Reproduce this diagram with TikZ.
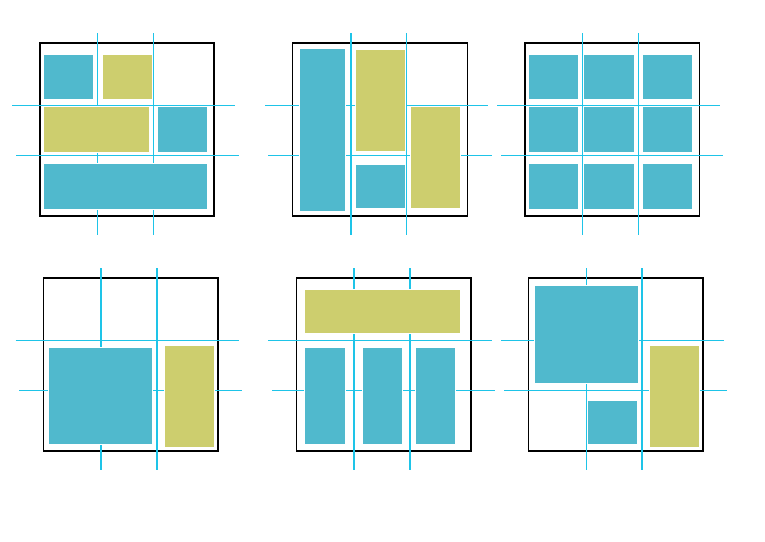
\documentclass[tikz,border=0pt]{standalone}
\definecolor{blk}{HTML}{50B9CD}
\definecolor{olv}{HTML}{CDCE6E}
\definecolor{gl}{HTML}{1EC4E8}
\tikzset{
  frame/.style={draw=black,line width=1.2pt},
  guide/.style={draw=gl,line width=1.4pt},
  cy/.style={fill=blk,draw=white,line width=0.7pt},
  ol/.style={fill=olv,draw=white,line width=0.7pt}
}
\begin{document}
\begin{tikzpicture}[x=1pt,y=-1pt]
\useasboundingbox (0,0) rectangle (765,541);
% ---------- Panel 1
\draw[frame] (40,43) rectangle (214,216);
\draw[guide] (97.7,33) -- (97.7,235);
\draw[guide] (153.7,33) -- (153.7,235);
\draw[guide] (12.3,105.7) -- (235.3,105.7);
\draw[guide] (16,155.7) -- (238.7,155.7);
\draw[cy] (43.7,54.7) rectangle (93.7,99.7);
\draw[ol] (102,54.7) rectangle (152,99.7);
\draw[ol] (43.7,106.5) rectangle (149.7,152);
\draw[cy] (157,106.5) rectangle (207.3,152);
\draw[cy] (43.7,163.7) rectangle (207.3,209);
% ---------- Panel 2
\draw[frame] (292.7,43) rectangle (467.3,216);
\draw[guide] (351,33) -- (351,235);
\draw[guide] (406.7,33) -- (406.7,235);
\draw[guide] (265,105.7) -- (488.3,105.7);
\draw[guide] (268.3,155.7) -- (491.7,155.7);
\draw[cy] (299.7,48) rectangle (345,211);
\draw[ol] (355.3,49) rectangle (405,151);
\draw[cy] (355.3,164) rectangle (405,208.7);
\draw[ol] (410.3,106.5) rectangle (460,208.7);
% ---------- Panel 3
\draw[frame] (525,43) rectangle (699.3,216);
\draw[guide] (582.7,33) -- (582.7,235);
\draw[guide] (638.7,33) -- (638.7,235);
\draw[guide] (497.3,105.7) -- (720,105.7);
\draw[guide] (501,155.7) -- (723.3,155.7);
\foreach \xa/\xb in {528.7/578.7,583.7/634,642/692.3}{
  \foreach \ya/\yb in {54.7/99.7,106.5/152,163.7/209}{
    \draw[cy] (\xa,\ya) rectangle (\xb,\yb);
  }
}
% ---------- Panel 4
\draw[frame] (43.7,278) rectangle (218,451);
\draw[guide] (101,268.3) -- (101,470);
\draw[guide] (157,268.3) -- (157,470);
\draw[guide] (15.7,340.7) -- (239,340.7);
\draw[guide] (19,390.7) -- (242.3,390.7);
\draw[cy] (48,347) rectangle (152.3,444.7);
\draw[ol] (164.3,345) rectangle (214,447);
% ---------- Panel 5
\draw[frame] (296.3,278) rectangle (471,451);
\draw[guide] (354,268.3) -- (354,470);
\draw[guide] (410,268.3) -- (410,470);
\draw[guide] (268.3,340.7) -- (491.7,340.7);
\draw[guide] (272,390.7) -- (495.3,390.7);
\draw[ol] (304.3,289) rectangle (460,333.7);
\draw[cy] (304.3,347) rectangle (345,444.7);
\draw[cy] (362,347) rectangle (402.7,444.7);
\draw[cy] (415,347) rectangle (455.3,444.7);
% ---------- Panel 6
\draw[frame] (528.7,278) rectangle (703,451);
\draw[guide] (586.3,268.3) -- (586.3,470);
\draw[guide] (642,268.3) -- (642,470);
\draw[guide] (501,340.7) -- (723.7,340.7);
\draw[guide] (504.3,390.7) -- (727.3,390.7);
\draw[cy] (534,285) rectangle (638.3,383);
\draw[cy] (587,400) rectangle (637,444.7);
\draw[ol] (649.3,345) rectangle (699.3,447);
\end{tikzpicture}
\end{document}
